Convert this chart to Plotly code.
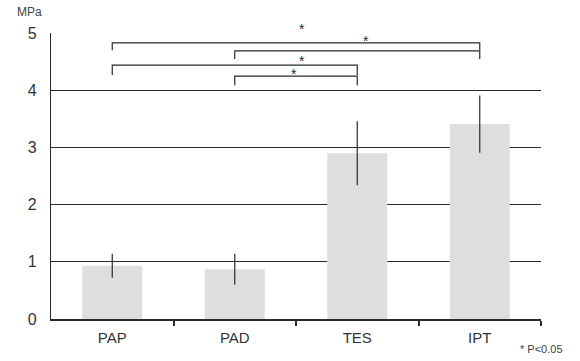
import plotly.graph_objects as go

categories = ["PAP", "PAD", "TES", "IPT"]
means = [0.93, 0.87, 2.90, 3.41]
errors = [0.21, 0.27, 0.56, 0.50]
y_ticks = [0, 1, 2, 3, 4, 5]

# significance brackets: left index, right index, bracket y, leg bottom y, star x, star y
br_left = [0, 1, 0, 1]
br_right = [3, 3, 2, 2]
br_y = [4.83, 4.69, 4.44, 4.25]
br_leg = [4.70, 4.55, 4.27, 4.09]
star_x = [1.55, 2.07, 1.55, 1.48]
star_y = [5.10, 4.90, 4.55, 4.32]

Y_MAX = 5.003
ink = "#2a2a2a"
xs = list(range(len(categories)))

fig = go.Figure()
fig.add_trace(go.Bar(
    x=xs, y=means, width=0.49,
    marker=dict(color="#dedede", line=dict(width=0)),
    error_y=dict(type="data", array=errors, visible=True, color=ink, thickness=1.2, width=0),
))

shapes = []
for l, r, y, yl in zip(br_left, br_right, br_y, br_leg):
    shapes.append(dict(type="path", xref="x", yref="y",
                       path=f"M {l},{yl} L {l},{y} L {r},{y} L {r},{yl}",
                       line=dict(color=ink, width=1.2)))

annotations = []
for sx, sy in zip(star_x, star_y):
    annotations.append(dict(x=(sx + 0.5) / 4.0, y=sy / Y_MAX, xref="paper", yref="paper",
                            text="*", showarrow=False, yshift=8,
                            font=dict(size=14, color=ink, family="Liberation Sans")))
annotations.append(dict(xref="paper", yref="paper", x=-0.043, y=1.073, xanchor="center",
                        yanchor="middle", text="MPa", showarrow=False,
                        font=dict(size=12, color="#444", family="Liberation Sans")))
annotations.append(dict(xref="paper", yref="paper", x=1.049, y=-0.105, xanchor="right", yanchor="middle",
                        text="* P<0.05", showarrow=False,
                        font=dict(size=11, color="#444", family="Liberation Sans")))

fig.update_layout(
    width=580, height=361,
    margin=dict(l=51, r=39, t=33, b=42),
    paper_bgcolor="white", plot_bgcolor="white",
    showlegend=False,
    shapes=shapes, annotations=annotations,
    font=dict(family="Liberation Sans", color="#333"),
    xaxis=dict(range=[-0.5, 3.5], tickvals=xs, ticktext=categories, ticks="", showgrid=False,
               showline=True, linecolor=ink, linewidth=1.5, zeroline=False,
               ticklabelstandoff=4,
               tickfont=dict(size=15, color="#333"),
               minor=dict(tickvals=[0.5, 1.5, 2.5, 3.5], ticks="outside", ticklen=5,
                          tickcolor=ink, tickwidth=1.5, showgrid=False)),
    yaxis=dict(range=[0, Y_MAX], tickvals=y_ticks, showgrid=True, gridcolor=ink, gridwidth=1.3,
               showline=True, linecolor=ink, linewidth=1.3, zeroline=False, ticks="",
               ticklabelstandoff=10, tickfont=dict(size=16, color="#333")),
    bargap=0.5,
)

fig.write_html("out.html")
